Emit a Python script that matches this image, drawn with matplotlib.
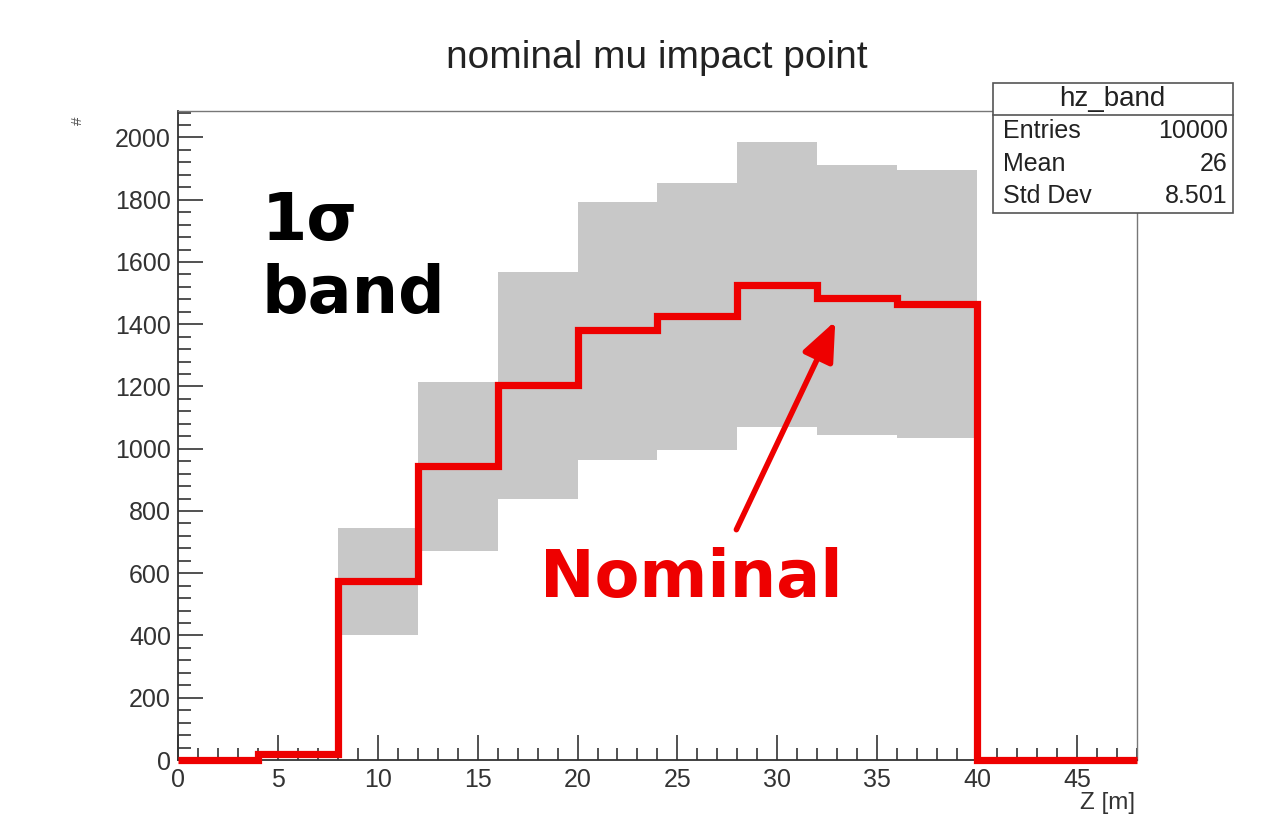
import numpy as np
import matplotlib
matplotlib.use("Agg")
import matplotlib.pyplot as plt
from matplotlib.ticker import MultipleLocator

plt.rcParams["font.family"] = ["Liberation Sans", "DejaVu Sans"]

# histogram binning (Z in metres)
edges = [0, 4, 8, 12, 16, 20, 24, 28, 32, 36, 40, 44, 48]
nominal = [0, 20, 575, 945, 1205, 1383, 1428, 1527, 1485, 1466, 0, 0]

# 1 sigma band, only bins 8..40
band_edges = [8, 12, 16, 20, 24, 28, 32, 36, 40]
band_low = [402, 670, 838, 965, 995, 1070, 1045, 1035]
band_high = [746, 1215, 1568, 1794, 1855, 1984, 1913, 1894]

stats_labels = ["Entries", "Mean", "Std Dev"]
stats_values = ["10000", "26", "8.501"]

fig = plt.figure(figsize=(12.63, 8.18), dpi=100)
ax = fig.add_axes([0.1409, 0.0709, 0.7593, 0.7934])

ax.stairs(band_high, band_edges, baseline=band_low, fill=True,
          color="#c8c8c8", linewidth=0, zorder=1)
ax.stairs(nominal, edges, baseline=None, color="#ee0000", linewidth=5.2,
          zorder=3, clip_on=False)

ax.set_xlim(0, 48)
ax.set_ylim(0, 2085)

ax.xaxis.set_major_locator(MultipleLocator(5))
ax.xaxis.set_minor_locator(MultipleLocator(1))
ax.yaxis.set_major_locator(MultipleLocator(200))
ax.yaxis.set_minor_locator(MultipleLocator(40))
ax.tick_params(which="both", direction="in", top=False, right=False,
               labelsize=18, labelcolor="#333333", color="#333333", width=1.2)
ax.tick_params(axis="y", which="major", length=18, pad=5)
ax.tick_params(axis="y", which="minor", length=9)
ax.tick_params(axis="x", which="major", length=18, pad=6)
ax.tick_params(axis="x", which="minor", length=9)

for side in ["left", "bottom"]:
    ax.spines[side].set_color("#333333")
    ax.spines[side].set_linewidth(1.3)
for side in ["top", "right"]:
    ax.spines[side].set_color("#777777")
    ax.spines[side].set_linewidth(1.0)

fig.text(0.52, 0.929, "nominal mu impact point", ha="center", va="center",
         fontsize=28, color="#222222")
fig.text(0.899, 0.018, "Z [m]", ha="right", va="center", fontsize=17.5,
         color="#333333")
fig.text(0.062, 0.852, "#", ha="center", va="center", fontsize=11,
         rotation=90, color="#555555")

ax.text(4.2, 1612, "1σ\nband", fontsize=47, fontweight="bold", color="black",
        ha="left", va="center", linespacing=1.18, family="DejaVu Sans")
ax.text(18.1, 582, "Nominal", fontsize=47, fontweight="bold", color="#ee0000",
        ha="left", va="center", family="DejaVu Sans")
ax.annotate("", xy=(32.9, 1410), xytext=(27.95, 740),
            arrowprops=dict(arrowstyle="-|>,head_length=1.2,head_width=0.5",
                            mutation_scale=20, color="#ee0000", lw=4,
                            shrinkA=0, shrinkB=0))

# stats box
x0, y0, w, h = 0.786, 0.740, 0.190, 0.159
box = plt.Rectangle((x0, y0), w, h, transform=fig.transFigure,
                    facecolor="white", edgecolor="#555555", lw=1.2)
fig.add_artist(box)
hdr = 0.039
fig.add_artist(plt.Line2D([x0, x0 + w], [y0 + h - hdr, y0 + h - hdr],
                          transform=fig.transFigure, color="#555555", lw=1.2))
fig.text(x0 + w / 2, y0 + h - hdr / 2, "hz_band", ha="center", va="center",
         fontsize=20, color="#222222")
row_h = (h - hdr) / 3
for i, (lab, val) in enumerate(zip(stats_labels, stats_values)):
    yy = y0 + h - hdr - row_h * (i + 0.5)
    fig.text(x0 + 0.008, yy, lab, ha="left", va="center", fontsize=18,
             color="#222222")
    fig.text(x0 + w - 0.004, yy, val, ha="right", va="center", fontsize=18,
             color="#222222")

fig.savefig("out.png", dpi=100)
